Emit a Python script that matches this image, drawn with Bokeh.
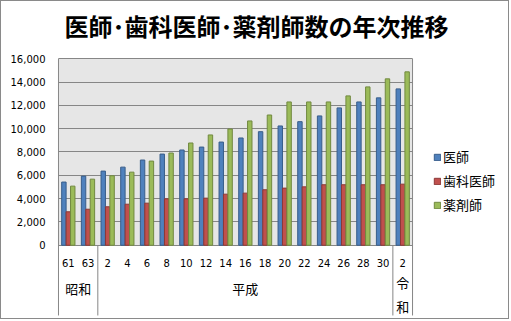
from bokeh.plotting import figure
from bokeh.models import (Range1d, FixedTicker, NumeralTickFormatter, BoxAnnotation,
                          Legend, LegendItem, ColumnDataSource, Label)
from bokeh.core.properties import value
from bokeh.embed import file_html
from bokeh.resources import INLINE

# ---- data ----
title_text = "医師･歯科医師･薬剤師数の年次推移"
year_labels = ["61", "63", "2", "4", "6", "8", "10", "12", "14", "16", "18",
               "20", "22", "24", "26", "28", "30", "2"]
era_names = ["昭和", "平成", "令和"]
era_spans = [(0, 1), (2, 16), (17, 17)]
series_names = ["医師", "歯科医師", "薬剤師"]
doctors = [5420, 5930, 6360, 6700, 7310, 7820, 8170, 8420, 8850, 9200, 9740,
           10230, 10600, 11090, 11780, 12290, 12640, 13410]
dentists = [2870, 3090, 3300, 3520, 3610, 3980, 3980, 4040, 4380, 4470, 4760,
            4900, 5010, 5190, 5190, 5190, 5190, 5240]
pharmacists = [5070, 5670, 5960, 6270, 7220, 7910, 8770, 9460, 9970, 10660, 11170,
               12290, 12290, 12290, 12810, 13580, 14270, 14870]
y_ticks = [0, 2000, 4000, 6000, 8000, 10000, 12000, 14000, 16000]

fill_colors = ["#4F81BD", "#C0504D", "#9BBB59"]
line_colors = ["#385D8A", "#8C3836", "#71893F"]
GRID = "#868686"

n = len(year_labels)
idx = list(range(n))

# layout helpers (pixels -> data units)
PXX = 19.67            # px per category
PXY = 186.0 / 16000    # px per unit value
x_end = -0.55 + (505 - 56) / PXX
y_top = 16000 + 57 / PXY
y_bot = -(318 - 243) / PXY


def ypx(canvas_y):
    return (243 - canvas_y) / PXY


p = figure(width=509, height=319, output_backend="svg", toolbar_location=None,
           x_range=Range1d(-0.55, x_end), y_range=Range1d(y_bot, y_top),
           x_axis_location=None, min_border_left=56, min_border_right=4,
           min_border_top=0, min_border_bottom=0,
           styles={"border": "1px solid #8a8a8a"})
p.background_fill_color = "white"
p.border_fill_color = "white"
p.outline_line_color = None
p.xgrid.visible = False

# title
p.add_layout(Label(x=-0.55 + (255 - 56) / PXX, y=ypx(24), text=title_text,
                   text_font="Noto Sans CJK JP", text_font_style="bold",
                   text_font_size="24px", text_color="black",
                   text_align="center", text_baseline="middle"))

# plot area background
p.add_layout(BoxAnnotation(left=-0.5, right=n - 0.5, bottom=0, top=16000,
                           fill_color="#E6E6E6", fill_alpha=1, line_color=None,
                           level="image"))

yax = p.yaxis[0]
yax.ticker = FixedTicker(ticks=y_ticks)
yax.formatter = NumeralTickFormatter(format="0,0")
yax.axis_line_color = None
yax.major_tick_line_color = None
yax.minor_tick_line_color = None
yax.major_tick_out = 0
yax.major_tick_in = 0
yax.major_label_standoff = 12
yax.major_label_text_font = "DejaVu Sans"
yax.major_label_text_font_size = "10px"
yax.major_label_text_color = "black"

p.ygrid.ticker = FixedTicker(ticks=y_ticks)
p.ygrid.grid_line_color = GRID
p.ygrid.grid_line_width = 1
p.ygrid.cross_bounds = (-0.5, n - 0.5)

# frame border and era separators
sep_bottom = ypx(313)
sep_x0 = [-0.5, n - 0.5, 1.5, 16.5]
sep_y0 = [sep_bottom] * 4
sep_y1 = [16000, 16000, 0, 0]
p.segment(x0=sep_x0, y0=sep_y0, x1=sep_x0, y1=sep_y1, line_color=GRID, line_width=1)

# bars
bw = 0.225
offsets = [-bw, 0.0, bw]
renderers = []
for vals, off, fc, lc in zip([doctors, dentists, pharmacists], offsets, fill_colors, line_colors):
    src = ColumnDataSource(dict(x=[i + off for i in idx], top=vals))
    r = p.vbar(x="x", top="top", width=bw, bottom=0, source=src,
               fill_color=fc, line_color=lc, line_width=1)
    renderers.append(r)

# category labels
p.text(x=idx, y=[ypx(261)] * n, text=year_labels, text_font=value("DejaVu Sans"),
       text_font_size="10px", text_align="center", text_baseline="middle",
       text_color="black")
era_x = [(a + b) / 2 for a, b in era_spans]
p.text(x=era_x[:2], y=[ypx(286)] * 2, text=era_names[:2],
       text_font=value("Noto Sans CJK JP"), text_font_size="13px",
       text_align="center", text_baseline="middle", text_color="black")
p.text(x=[era_x[2]], y=[ypx(292)], text=["\n".join(era_names[2])],
       text_font=value("Noto Sans CJK JP"), text_font_size="13px",
       text_align="center", text_baseline="middle", text_color="black",
       text_line_height=1.3)

legend = Legend(items=[LegendItem(label=s, renderers=[r]) for s, r in zip(series_names, renderers)],
                location=(376, 106), padding=0, margin=0, spacing=5,
                glyph_width=8, glyph_height=8, label_height=16, label_standoff=2,
                label_text_font="Noto Sans CJK JP", label_text_font_size="13px",
                label_text_color="black", border_line_color=None,
                background_fill_alpha=0)
p.add_layout(legend)

open("out.html", "w").write(file_html(p, INLINE))
